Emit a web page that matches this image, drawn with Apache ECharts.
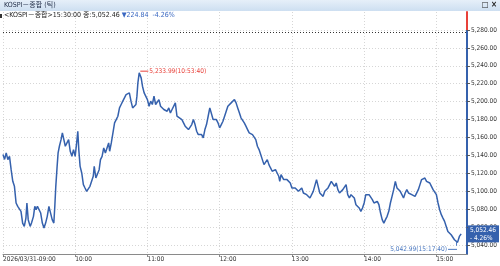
<!DOCTYPE html>
<html>
<head>
<meta charset="utf-8">
<script src="https://cdn.jsdelivr.net/npm/echarts@6/dist/echarts.min.js"></script>
<style>
html, body { margin: 0; padding: 0; background: #fff; }
#main { width: 500px; height: 266px; }
</style>
</head>
<body>
<div id="main"></div>
<script>
var FONT = '"Liberation Sans Narrow","DejaVu Sans Condensed","Liberation Sans","Noto Sans CJK KR",sans-serif';

// 틱 데이터 (시간, 지수)
var times = [
  '09:00:00','09:01:20','09:02:40','09:04:02','09:05:24','09:06:46','09:08:08','09:09:30','09:10:52','09:12:14',
  '09:13:35','09:14:57','09:16:19','09:17:41','09:19:03','09:19:52','09:20:57','09:22:35','09:23:41','09:25:19',
  '09:26:25','09:27:30','09:28:36','09:29:57','09:31:19','09:32:41','09:34:03','09:35:25','09:36:47','09:38:09',
  '09:39:30','09:40:52','09:42:14','09:43:03','09:43:52','09:44:58','09:45:47','09:46:52','09:48:14','09:49:20',
  '09:50:25','09:51:47','09:53:09','09:54:31','09:55:53','09:57:14','09:58:36','09:59:58','10:01:20','10:02:09',
  '10:02:58','10:04:04','10:05:25','10:06:47','10:08:09','10:09:31','10:10:53','10:12:15','10:13:37','10:14:59',
  '10:15:48','10:17:09','10:18:31','10:19:53','10:20:59','10:22:20','10:23:42','10:25:04','10:26:26','10:27:48',
  '10:28:37','10:29:59','10:31:21','10:32:42','10:34:04','10:35:26','10:36:48','10:38:10','10:39:32','10:40:54',
  '10:42:16','10:43:37','10:44:59','10:46:21','10:47:43','10:49:05','10:50:27','10:51:16','10:52:05','10:53:10',
  '10:53:40','10:54:48','10:55:54','10:57:16','10:58:38','11:00:00','11:01:22','11:02:43','11:04:05','11:05:27',
  '11:06:49','11:08:11','11:09:33','11:10:54','11:12:16','11:13:38','11:15:00','11:16:22','11:17:44','11:19:06',
  '11:20:28','11:21:49','11:23:11','11:24:33','11:25:55','11:28:39','11:30:00','11:31:22','11:32:44','11:34:06',
  '11:35:28','11:36:50','11:38:12','11:39:34','11:40:55','11:42:17','11:43:39','11:45:01','11:46:23','11:47:45',
  '11:49:06','11:50:28','11:51:50','11:53:12','11:54:34','11:55:56','11:57:17','11:58:39','12:00:01','12:01:23',
  '12:02:45','12:04:07','12:05:28','12:06:50','12:08:12','12:09:34','12:10:56','12:12:18','12:13:40','12:15:01',
  '12:16:23','12:17:45','12:19:07','12:20:29','12:21:51','12:23:13','12:24:34','12:25:56','12:27:18','12:28:40',
  '12:30:02','12:31:24','12:32:45','12:34:07','12:35:29','12:36:51','12:38:13','12:39:35','12:40:57','12:42:18',
  '12:43:40','12:45:02','12:46:24','12:47:46','12:49:08','12:49:57','12:51:02','12:51:51','12:53:13','12:54:35',
  '12:55:57','12:57:19','12:58:41','13:00:02','13:01:24','13:02:46','13:04:08','13:05:30','13:06:52','13:08:14',
  '13:09:35','13:10:57','13:12:19','13:13:41','13:15:03','13:16:25','13:17:47','13:19:08','13:20:30','13:21:52',
  '13:23:14','13:24:36','13:25:58','13:27:19','13:28:41','13:30:03','13:31:25','13:32:47','13:34:09','13:35:31',
  '13:36:52','13:38:14','13:39:36','13:40:58','13:42:20','13:43:42','13:45:04','13:46:25','13:47:47','13:49:09',
  '13:50:31','13:51:53','13:53:15','13:54:36','13:55:58','13:57:20','13:58:42','14:00:04','14:01:26','14:02:48',
  '14:04:09','14:05:31','14:06:53','14:08:15','14:09:37','14:10:59','14:12:20','14:13:42','14:15:04','14:16:26',
  '14:17:48','14:19:10','14:20:32','14:21:53','14:23:15','14:24:37','14:25:59','14:27:21','14:28:43','14:30:04',
  '14:31:26','14:32:48','14:34:10','14:35:32','14:36:54','14:38:16','14:39:37','14:40:59','14:42:21','14:43:43',
  '14:45:05','14:46:27','14:47:49','14:49:10','14:50:32','14:51:54','14:53:16','14:54:38','14:56:00','14:57:21',
  '14:58:43','15:00:05','15:01:27','15:02:49','15:04:11','15:05:33','15:06:54','15:08:16','15:09:38','15:11:00',
  '15:12:22','15:13:44','15:15:06','15:16:27','15:17:40','15:19:11','15:20:40'
];
var prices = [
  5140.9,5135.5,5142.8,5135.3,5139.0,5124.1,5111.1,5105.5,5086.9,5083.2,
  5081.3,5077.6,5064.5,5060.8,5070.1,5086.9,5068.3,5060.8,5064.5,5072.0,
  5083.2,5079.4,5083.2,5085.0,5075.7,5064.5,5058.9,5064.5,5072.0,5083.2,
  5081.3,5068.3,5064.5,5083.2,5105.5,5127.8,5142.8,5150.2,5157.6,5165.1,
  5163.2,5150.2,5153.9,5157.6,5144.6,5139.0,5146.5,5139.0,5155.8,5167.0,
  5146.5,5127.8,5120.4,5107.4,5103.6,5099.9,5099.9,5105.5,5103.6,5116.7,
  5127.8,5114.8,5116.7,5124.1,5135.3,5139.0,5148.3,5142.8,5148.3,5153.9,
  5144.6,5153.9,5165.1,5176.3,5180.0,5183.7,5193.0,5196.8,5200.5,5202.3,
  5207.9,5206.1,5209.8,5200.5,5193.0,5194.9,5196.8,5206.1,5221.0,5232.1,
  5233.99,5226.5,5217.2,5209.8,5207.9,5202.3,5194.9,5200.5,5196.8,5206.1,
  5196.8,5194.9,5202.3,5194.9,5196.8,5191.2,5193.0,5189.3,5193.0,5187.4,
  5191.2,5189.3,5198.6,5183.7,5181.9,5180.0,5178.1,5172.6,5174.4,5168.8,
  5170.7,5174.4,5180.0,5174.4,5167.0,5163.2,5161.4,5163.2,5159.5,5168.8,
  5174.4,5183.7,5193.0,5191.2,5180.0,5178.1,5180.0,5176.3,5170.7,5174.4,
  5178.1,5183.7,5189.3,5194.9,5196.8,5198.6,5200.5,5202.3,5198.6,5193.0,
  5187.5,5181.9,5180.0,5176.3,5172.6,5168.8,5165.1,5165.1,5163.2,5163.2,
  5157.6,5150.2,5146.5,5140.9,5135.3,5129.7,5131.6,5135.3,5129.7,5126.0,
  5122.3,5120.4,5124.1,5120.4,5116.7,5111.1,5118.6,5116.7,5113.0,5114.8,
  5113.0,5113.0,5109.2,5103.7,5101.8,5103.7,5101.8,5099.9,5099.9,5103.7,
  5098.1,5098.1,5096.2,5094.3,5092.5,5092.5,5099.9,5101.8,5113.0,5105.5,
  5098.1,5096.2,5094.3,5099.9,5101.8,5103.7,5105.5,5111.1,5113.0,5105.5,
  5109.2,5101.8,5098.1,5096.2,5101.8,5103.7,5107.4,5096.2,5092.5,5096.2,
  5098.1,5092.5,5085.0,5085.0,5081.3,5077.6,5081.3,5086.9,5096.2,5094.3,
  5096.2,5094.3,5090.6,5086.9,5085.0,5088.7,5085.0,5075.7,5068.3,5064.5,
  5068.3,5072.0,5077.6,5086.9,5094.3,5101.8,5111.1,5103.7,5105.5,5099.9,
  5096.2,5092.5,5098.1,5101.8,5098.1,5099.9,5096.2,5096.2,5094.3,5092.5,
  5101.8,5107.4,5113.0,5114.8,5114.8,5111.1,5113.0,5109.2,5105.5,5101.8,
  5099.9,5096.2,5086.9,5079.4,5073.9,5070.1,5066.4,5060.8,5055.2,5053.4,
  5051.5,5049.6,5045.9,5044.1,5042.99,5049.6,5052.46
];

var hourTicks = ['09:00', '10:00', '11:00', '12:00', '13:00', '14:00', '15:00'];
var tradeDate = '2026/03/31';
var lastTime = '15:30:00';
var prevClose = 5277.30;
var lastPrice = 5052.46;
var change = -224.84;
var changePct = -4.26;

var Y_MIN = 5030, Y_MAX = 5300;
var LINE_BLUE = '#3561ad';
var UP_RED = '#e8413a';
var MIN_BLUE = '#4a78c0';
var NUM_SIZE = 6.5;

function toMin(t) {
  var p = t.split(':');
  return (p[0] - 9) * 60 + (+p[1]) + (+p[2] || 0) / 60;
}
function fmt(v) {
  var p = Math.abs(v).toFixed(2).split('.');
  return p[0].replace(/\B(?=(\d{3})+$)/g, ',') + '.' + p[1];
}

var seriesData = times.map(function (t, i) { return [toMin(t), prices[i]]; });

var maxIdx = prices.indexOf(Math.max.apply(null, prices));
var minIdx = prices.indexOf(Math.min.apply(null, prices));

// 전일종가 위쪽은 빨강, 아래는 파랑
var redFrac = (Y_MAX - prevClose) / (Y_MAX - Y_MIN);

var myChart = echarts.init(document.getElementById('main'), null, { renderer: 'canvas' });

var option = {
  animation: false,
  backgroundColor: '#fff',
  textStyle: { fontFamily: FONT },
  grid: { left: -2, right: 31, top: 12, bottom: 12 },
  xAxis: {
    type: 'value',
    min: 0,
    max: 385.5,
    interval: 60,
    axisLine: { onZero: false, lineStyle: { color: '#8a8a8a', width: 1 } },
    axisTick: { show: true, length: 3, lineStyle: { color: '#8a8a8a' } },
    axisLabel: {
      color: '#333',
      fontSize: NUM_SIZE,
      fontFamily: FONT,
      align: 'left',
      margin: 2,
      showMaxLabel: false,
      formatter: function (v) {
        var i = Math.round(v / 60);
        if (i === 0) return tradeDate + '-' + hourTicks[0];
        return hourTicks[i] || '';
      }
    },
    splitLine: { show: true, lineStyle: { color: '#d6d6d6', type: [1, 2], width: 1 } }
  },
  yAxis: {
    type: 'value',
    position: 'right',
    min: Y_MIN,
    max: Y_MAX,
    splitNumber: 13,
    minInterval: 20,
    maxInterval: 20,
    axisLine: {
      show: true,
      onZero: false,
      lineStyle: {
        width: 2,
        color: new echarts.graphic.LinearGradient(0, 0, 0, 1, [
          { offset: 0, color: UP_RED },
          { offset: redFrac, color: UP_RED },
          { offset: redFrac, color: LINE_BLUE },
          { offset: 1, color: LINE_BLUE }
        ])
      }
    },
    axisTick: { show: true, length: 3, lineStyle: { color: '#555' } },
    axisLabel: {
      color: '#333',
      fontSize: NUM_SIZE,
      fontFamily: FONT,
      margin: 4,
      showMinLabel: false,
      showMaxLabel: false,
      formatter: function (v) { return fmt(v); }
    },
    splitLine: { show: true, showMaxLine: false, showMinLine: false, lineStyle: { color: '#d6d6d6', type: [1, 2], width: 1 } }
  },
  series: [{
    type: 'line',
    data: seriesData,
    showSymbol: false,
    symbol: 'none',
    lineStyle: { color: LINE_BLUE, width: 1.5 },
    markLine: {
      silent: true,
      symbol: 'none',
      animation: false,
      data: [
        {
          yAxis: prevClose,
          lineStyle: { color: '#333', type: [1, 2], width: 1 },
          label: { show: false }
        },
        {
          yAxis: lastPrice,
          lineStyle: { color: 'rgba(0,0,0,0)', width: 1 },
          label: {
            show: true,
            position: 'end',
            distance: 1,
            formatter: fmt(lastPrice) + '\n' + (change < 0 ? '- ' : '+ ') + Math.abs(changePct).toFixed(2) + '%',
            color: '#fff',
            backgroundColor: LINE_BLUE,
            fontSize: NUM_SIZE,
            lineHeight: 8,
            fontFamily: FONT,
            padding: [1, 3, 0, 2],
            align: 'left'
          }
        }
      ]
    },
    markPoint: {
      silent: true,
      symbol: 'circle',
      symbolSize: 1,
      itemStyle: { color: 'rgba(0,0,0,0)' },
      data: [
        {
          coord: seriesData[maxIdx],
          label: {
            show: true,
            position: 'right',
            distance: 0,
            formatter: '{l| }{t|' + fmt(prices[maxIdx]) + '(' + times[maxIdx] + ')}',
            rich: {
              l: { width: 8, height: 1, backgroundColor: UP_RED },
              t: { color: UP_RED, fontSize: NUM_SIZE, fontFamily: FONT, padding: [0, 0, 0, 1] }
            }
          }
        },
        {
          coord: seriesData[minIdx],
          label: {
            show: true,
            position: 'left',
            distance: 0,
            offset: [0, 5],
            formatter: '{v| }\n{t|' + fmt(prices[minIdx]) + '(' + times[minIdx] + ')}{l| }',
            rich: {
              v: { width: 1, height: 4, lineHeight: 4, backgroundColor: MIN_BLUE, align: 'right' },
              l: { width: 9, height: 1, backgroundColor: MIN_BLUE },
              t: { color: MIN_BLUE, fontSize: NUM_SIZE, lineHeight: 7, fontFamily: FONT, padding: [0, 1, 0, 0] }
            }
          }
        }
      ]
    }
  }],
  graphic: [
    {
      type: 'rect',
      shape: { x: 0, y: 0, width: 500, height: 11 },
      style: {
        fill: new echarts.graphic.LinearGradient(0, 0, 0, 1, [
          { offset: 0, color: '#e6eff9' },
          { offset: 1, color: '#cddff1' }
        ])
      },
      z: 10
    },
    {
      type: 'text',
      left: 4, top: 2,
      style: { text: 'KOSPI－종합 (틱)', fill: '#1f2b45', font: '7px ' + FONT },
      z: 11
    },
    {
      type: 'text',
      right: 3, top: 1,
      style: { text: '□ ×', fill: '#222', font: 'bold 8px ' + FONT },
      z: 11
    },
    {
      type: 'rect',
      shape: { x: 0, y: 14, width: 2, height: 4 },
      style: { fill: '#333' },
      z: 11
    },
    {
      type: 'text',
      left: 4, top: 12,
      style: {
        text: '{a|<KOSPI－종합>' + lastTime + ' 종:' + fmt(lastPrice) + ' }{b|' + (change < 0 ? '▼' : '▲') + fmt(change) + '  ' + changePct.toFixed(2) + '%}',
        rich: {
          a: { fill: '#222', font: '7px ' + FONT },
          b: { fill: '#3a68c2', font: '7px ' + FONT }
        }
      },
      z: 11
    }
  ]
};

myChart.setOption(option);
</script>
</body>
</html>
